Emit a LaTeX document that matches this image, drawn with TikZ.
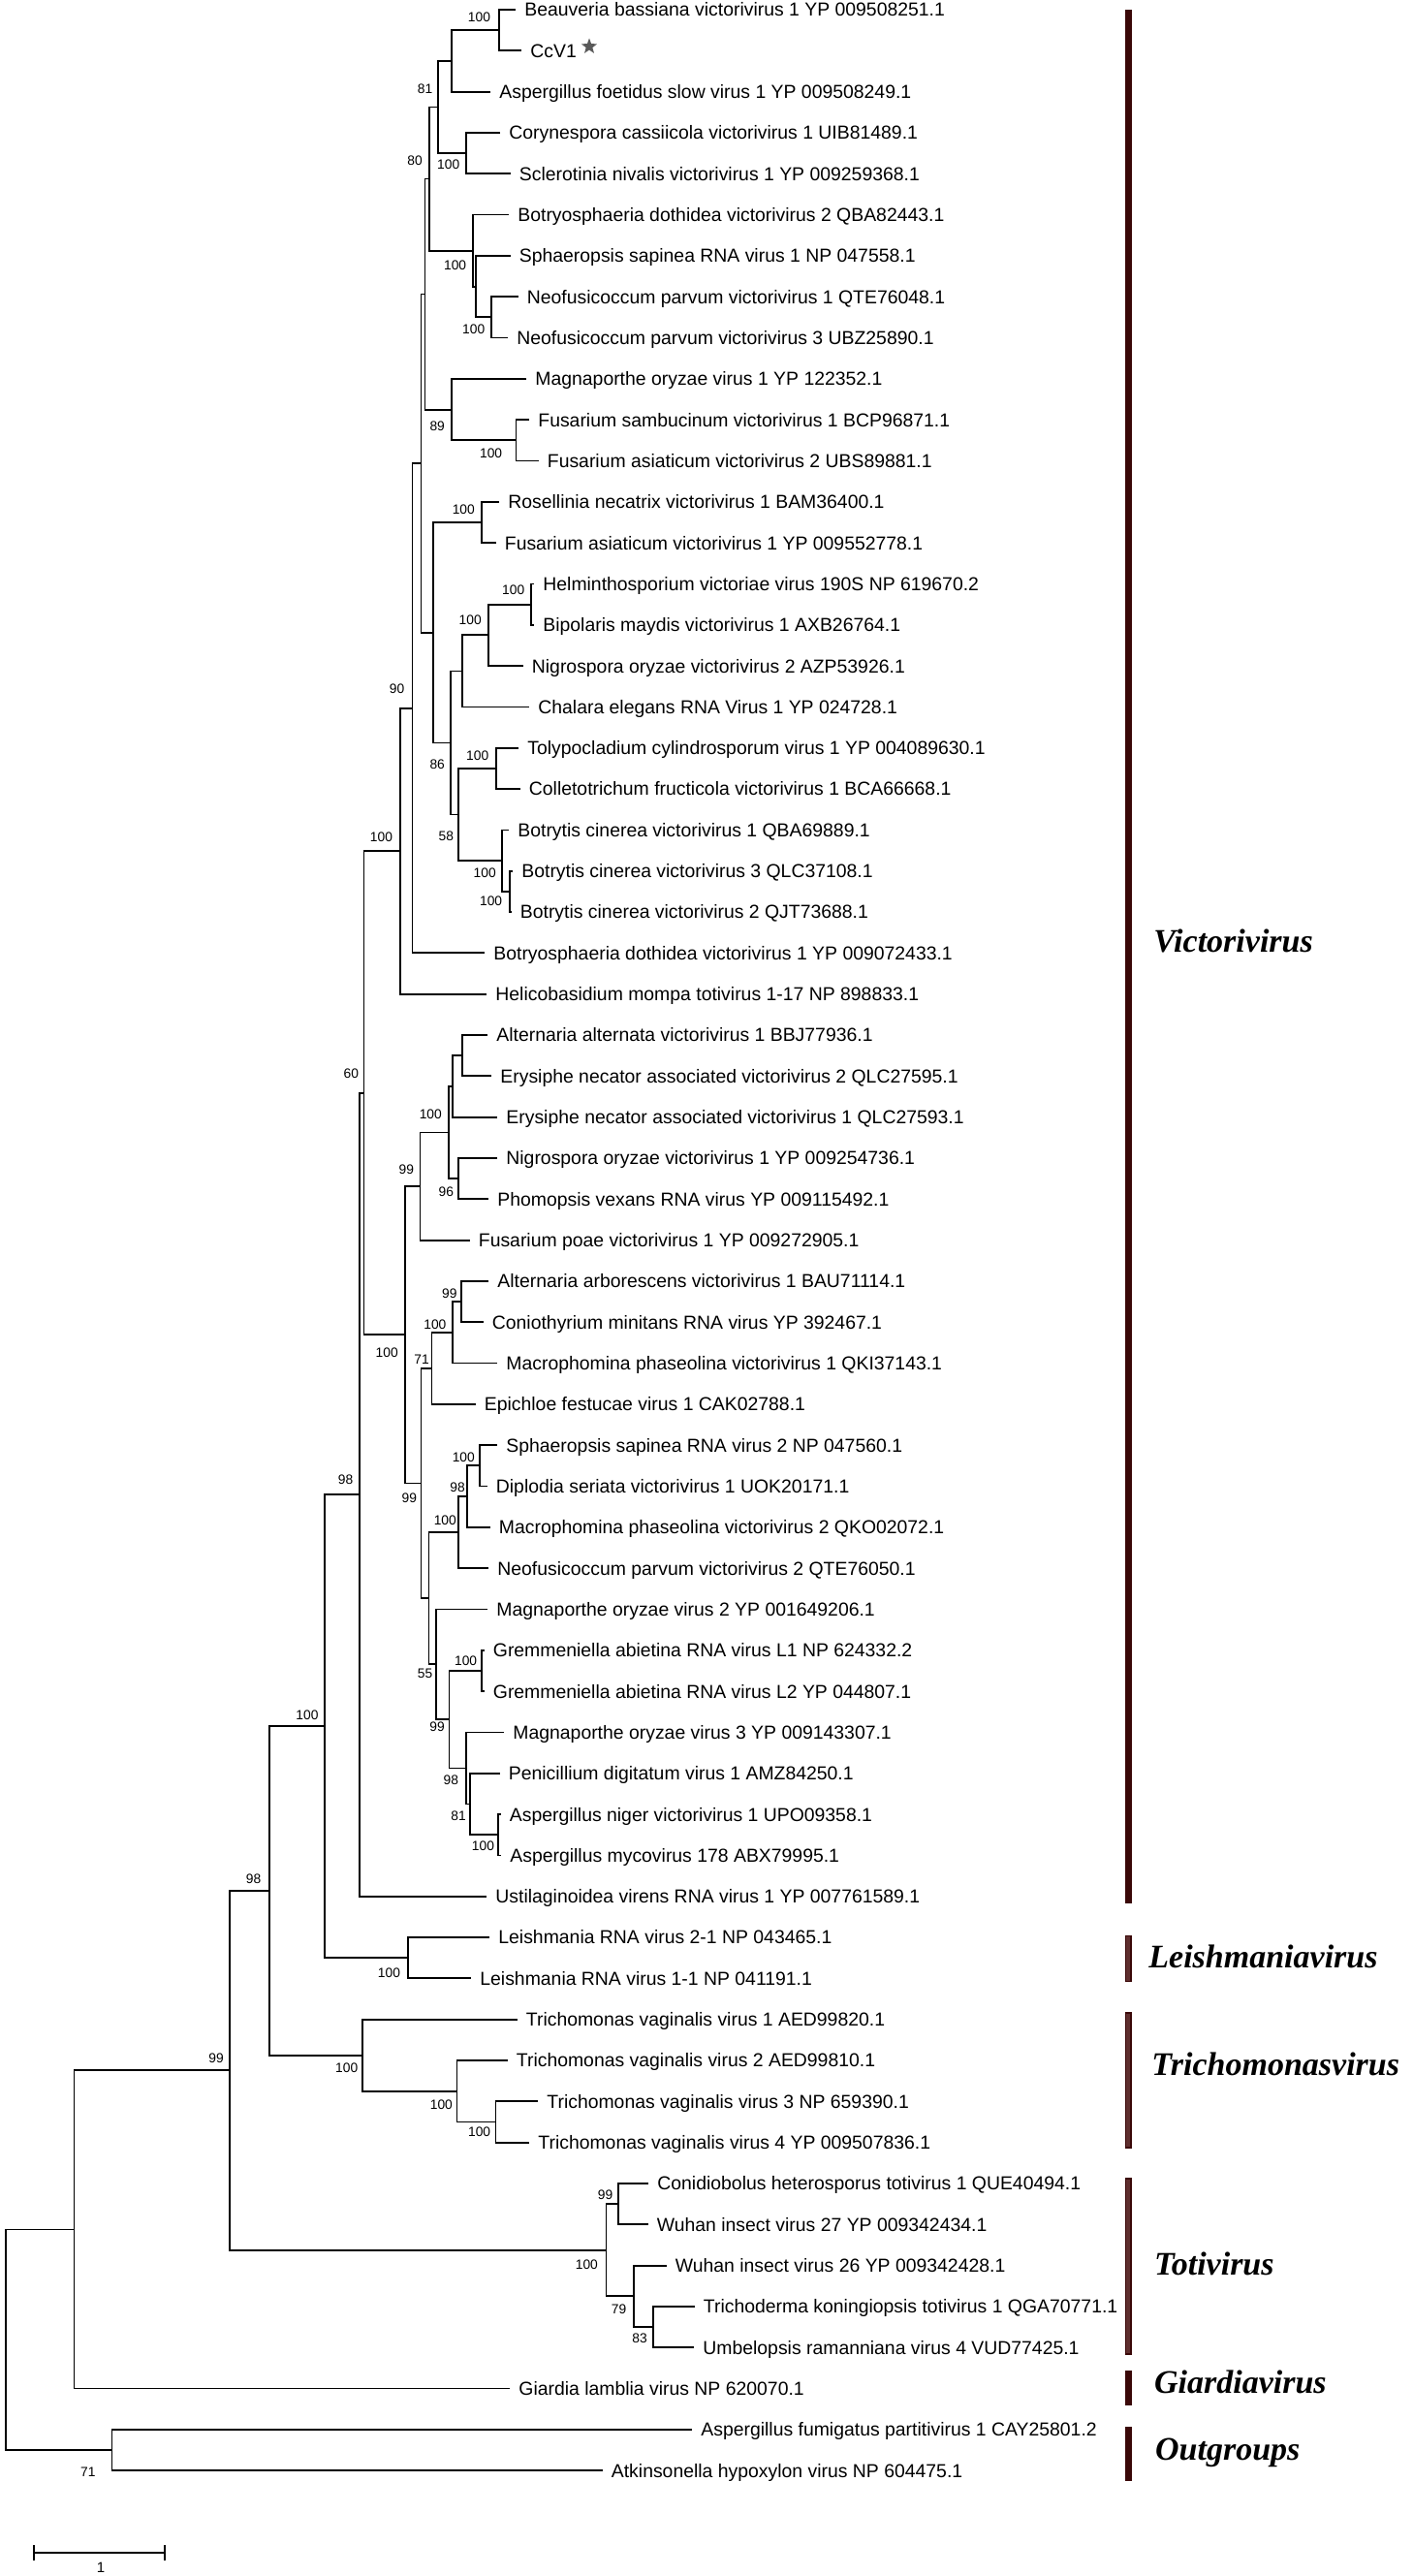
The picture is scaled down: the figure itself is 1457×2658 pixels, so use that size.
\documentclass[tikz,border=0pt]{standalone}
\usepackage{fontspec}
\setmainfont{Liberation Sans}
\newfontfamily\grpfont{Liberation Serif}
\usetikzlibrary{calc,shapes.geometric}
\definecolor{bardark}{HTML}{3A0808}
\definecolor{barlight}{HTML}{5E2E2E}
\definecolor{stargray}{HTML}{5A5A5A}
\newcommand{\leaf}[4]{%
  \coordinate (#1) at (#2,{10+(#3-1)*42.32});
  \node[lbl] (#1t) at (#1) {#4};}
\newcommand{\clade}[4]{%
  \path let \p1=($(#3)!0.5!(#4)$) in coordinate (#1) at (#2*0.5pt,\y1);
  \draw[br] (#3) -- (#1 |- #3) -- (#1 |- #4) -- (#4);}
\newcommand{\gbar}[5]{%
  \filldraw[fill=#4,draw=#5,line width=0.7pt] (1161.5,#2) rectangle (1166.8,#3);}
\begin{document}
\begin{tikzpicture}[x=0.5pt,y=-0.5pt,
  br/.style={line width=0.9pt,line join=miter,black},
  lbl/.style={anchor=west,inner xsep=4.5pt,inner ysep=0pt,text height=6.9pt,text depth=0pt,font=\fontsize{9.7}{11}\selectfont},
  bs/.style={inner sep=0pt,text height=4.9pt,text depth=0pt,font=\fontsize{6.9}{8}\selectfont},
  grp/.style={anchor=west,inner sep=0pt,text height=11.2pt,text depth=0pt,font=\grpfont\fontsize{17}{20}\selectfont\bfseries\itshape}]
\fill[white] (0,0) rectangle (1457,2658);
\useasboundingbox (0,0) rectangle (1457,2658);
% leaves
\leaf{l1}{532}{1}{Beauveria bassiana victorivirus 1 YP 009508251.1}
\leaf{l2}{538}{2}{CcV1}
\leaf{l3}{506}{3}{Aspergillus foetidus slow virus 1 YP 009508249.1}
\leaf{l4}{516}{4}{Corynespora cassiicola victorivirus 1 UIB81489.1}
\leaf{l5}{526.5}{5}{Sclerotinia nivalis victorivirus 1 YP 009259368.1}
\leaf{l6}{525}{6}{Botryosphaeria dothidea victorivirus 2 QBA82443.1}
\leaf{l7}{526.5}{7}{Sphaeropsis sapinea RNA virus 1 NP 047558.1}
\leaf{l8}{534.5}{8}{Neofusicoccum parvum victorivirus 1 QTE76048.1}
\leaf{l9}{524}{9}{Neofusicoccum parvum victorivirus 3 UBZ25890.1}
\leaf{l10}{543}{10}{Magnaporthe oryzae virus 1 YP 122352.1}
\leaf{l11}{546}{11}{Fusarium sambucinum victorivirus 1 BCP96871.1}
\leaf{l12}{555.5}{12}{Fusarium asiaticum victorivirus 2 UBS89881.1}
\leaf{l13}{515}{13}{Rosellinia necatrix victorivirus 1 BAM36400.1}
\leaf{l14}{511.5}{14}{Fusarium asiaticum victorivirus 1 YP 009552778.1}
\leaf{l15}{551}{15}{Helminthosporium victoriae virus 190S NP 619670.2}
\leaf{l16}{551}{16}{Bipolaris maydis victorivirus 1 AXB26764.1}
\leaf{l17}{539.5}{17}{Nigrospora oryzae victorivirus 2 AZP53926.1}
\leaf{l18}{546}{18}{Chalara elegans RNA Virus 1 YP 024728.1}
\leaf{l19}{535}{19}{Tolypocladium cylindrosporum virus 1 YP 004089630.1}
\leaf{l20}{536.5}{20}{Colletotrichum fructicola victorivirus 1 BCA66668.1}
\leaf{l21}{525}{21}{Botrytis cinerea victorivirus 1 QBA69889.1}
\leaf{l22}{529}{22}{Botrytis cinerea victorivirus 3 QLC37108.1}
\leaf{l23}{527.5}{23}{Botrytis cinerea victorivirus 2 QJT73688.1}
\leaf{l24}{500}{24}{Botryosphaeria dothidea victorivirus 1 YP 009072433.1}
\leaf{l25}{502}{25}{Helicobasidium mompa totivirus 1-17 NP 898833.1}
\leaf{l26}{503}{26}{Alternaria alternata victorivirus 1 BBJ77936.1}
\leaf{l27}{507}{27}{Erysiphe necator associated victorivirus 2 QLC27595.1}
\leaf{l28}{513}{28}{Erysiphe necator associated victorivirus 1 QLC27593.1}
\leaf{l29}{513}{29}{Nigrospora oryzae victorivirus 1 YP 009254736.1}
\leaf{l30}{504}{30}{Phomopsis vexans RNA virus YP 009115492.1}
\leaf{l31}{484.5}{31}{Fusarium poae victorivirus 1 YP 009272905.1}
\leaf{l32}{504}{32}{Alternaria arborescens victorivirus 1 BAU71114.1}
\leaf{l33}{498.5}{33}{Coniothyrium minitans RNA virus YP 392467.1}
\leaf{l34}{513}{34}{Macrophomina phaseolina victorivirus 1 QKI37143.1}
\leaf{l35}{490.5}{35}{Epichloe festucae virus 1 CAK02788.1}
\leaf{l36}{513}{36}{Sphaeropsis sapinea RNA virus 2 NP 047560.1}
\leaf{l37}{502.5}{37}{Diplodia seriata victorivirus 1 UOK20171.1}
\leaf{l38}{505.5}{38}{Macrophomina phaseolina victorivirus 2 QKO02072.1}
\leaf{l39}{504}{39}{Neofusicoccum parvum victorivirus 2 QTE76050.1}
\leaf{l40}{503}{40}{Magnaporthe oryzae virus 2 YP 001649206.1}
\leaf{l41}{499.5}{41}{Gremmeniella abietina RNA virus L1 NP 624332.2}
\leaf{l42}{499.5}{42}{Gremmeniella abietina RNA virus L2 YP 044807.1}
\leaf{l43}{520}{43}{Magnaporthe oryzae virus 3 YP 009143307.1}
\leaf{l44}{515.5}{44}{Penicillium digitatum virus 1 AMZ84250.1}
\leaf{l45}{516.5}{45}{Aspergillus niger victorivirus 1 UPO09358.1}
\leaf{l46}{517}{46}{Aspergillus mycovirus 178 ABX79995.1}
\leaf{l47}{502}{47}{Ustilaginoidea virens RNA virus 1 YP 007761589.1}
\leaf{l48}{505}{48}{Leishmania RNA virus 2-1 NP 043465.1}
\leaf{l49}{486}{49}{Leishmania RNA virus 1-1 NP 041191.1}
\leaf{l50}{533.5}{50}{Trichomonas vaginalis virus 1 AED99820.1}
\leaf{l51}{523.5}{51}{Trichomonas vaginalis virus 2 AED99810.1}
\leaf{l52}{555}{52}{Trichomonas vaginalis virus 3 NP 659390.1}
\leaf{l53}{546}{53}{Trichomonas vaginalis virus 4 YP 009507836.1}
\leaf{l54}{669}{54}{Conidiobolus heterosporus totivirus 1 QUE40494.1}
\leaf{l55}{668.5}{55}{Wuhan insect virus 27 YP 009342434.1}
\leaf{l56}{687.5}{56}{Wuhan insect virus 26 YP 009342428.1}
\leaf{l57}{716.5}{57}{Trichoderma koningiopsis totivirus 1 QGA70771.1}
\leaf{l58}{716}{58}{Umbelopsis ramanniana virus 4 VUD77425.1}
\leaf{l59}{526}{59}{Giardia lamblia virus NP 620070.1}
\leaf{l60}{714}{60}{Aspergillus fumigatus partitivirus 1 CAY25801.2}
\leaf{l61}{621.5}{61}{Atkinsonella hypoxylon virus NP 604475.1}
\node[star,star points=5,star point ratio=2.4,fill=stargray,minimum size=8.5pt,inner sep=0pt] (ccstar) at (608,48) {};
% clades
\clade{A}{514.6}{l1}{l2}
\clade{B}{465.6}{A}{l3}
\clade{C}{481}{l4}{l5}
\clade{D}{452.3}{B}{C}
\clade{G}{507}{l8}{l9}
\clade{F}{491}{l7}{G}
\clade{E}{488}{l6}{F}
\clade{H}{443}{D}{E}
\clade{J}{532.5}{l11}{l12}
\clade{I}{465.6}{l10}{J}
\clade{K}{438.5}{H}{I}
\clade{O}{496.7}{l13}{l14}
\clade{S}{548}{l15}{l16}
\clade{R}{503.7}{S}{l17}
\clade{Q}{477}{R}{l18}
\clade{T}{512}{l19}{l20}
\clade{W}{526}{l22}{l23}
\clade{V}{518}{l21}{W}
\clade{U}{473}{T}{V}
\clade{P}{465}{Q}{U}
\clade{N}{447}{O}{P}
\clade{M}{434.4}{K}{N}
\clade{X}{425.5}{M}{l24}
\clade{Y}{413}{X}{l25}
\clade{AE}{476.6}{l26}{l27}
\clade{AD}{467.3}{AE}{l28}
\clade{AF}{473}{l29}{l30}
\clade{AC}{462.7}{AD}{AF}
\clade{AB}{433.5}{AC}{l31}
\clade{AJ}{476}{l32}{l33}
\clade{AI}{467.3}{AJ}{l34}
\clade{AH}{445.4}{AI}{l35}
\clade{AO}{495}{l36}{l37}
\clade{AN}{482.3}{AO}{l38}
\clade{AL}{473}{AN}{l39}
\clade{AQ}{497.3}{l41}{l42}
\clade{AT}{513.8}{l45}{l46}
\clade{AS}{484.6}{l44}{AT}
\clade{AR}{480.8}{l43}{AS}
\clade{AP}{463.5}{AQ}{AR}
\clade{AM}{450}{l40}{AP}
\clade{AK}{442.5}{AL}{AM}
\clade{AG}{434.4}{AH}{AK}
\clade{AA}{418}{AB}{AG}
\clade{Z}{375.5}{Y}{AA}
\clade{BB}{371}{Z}{l47}
\clade{DD}{420.8}{l48}{l49}
\clade{CC}{334.8}{BB}{DD}
\clade{HH}{511.5}{l52}{l53}
\clade{GG}{471.5}{l51}{HH}
\clade{FF}{373.8}{l50}{GG}
\clade{EE}{277.8}{CC}{FF}
\clade{KK}{637.7}{l54}{l55}
\clade{MM}{673.8}{l57}{l58}
\clade{LL}{653.8}{l56}{MM}
\clade{JJ}{625.4}{KK}{LL}
\clade{II}{237}{EE}{JJ}
\clade{NN}{76.5}{II}{l59}
\clade{OO}{115.4}{l60}{l61}
\clade{root}{6.2}{NN}{OO}
% bootstrap values
\node[bs] (bA) at (494.5,17.3) {100};
\node[bs] (bD) at (438.5,91.7) {81};
\node[bs] (bC) at (462.7,170) {100};
\node[bs] (bH) at (428.1,165.7) {80};
\node[bs] (bE) at (469.6,273.3) {100};
\node[bs] (bG) at (488.7,340) {100};
\node[bs] (bI) at (451.2,439.3) {89};
\node[bs] (bJ) at (506.6,467.3) {100};
\node[bs] (bO) at (478.3,526) {100};
\node[bs] (bS) at (529.7,608.3) {100};
\node[bs] (bR) at (485.2,640) {100};
\node[bs] (bX) at (409.6,710.7) {90};
\node[bs] (bT) at (492.7,779.3) {100};
\node[bs] (bP) at (451.2,788.3) {86};
\node[bs] (bY) at (393.5,864) {100};
\node[bs] (bU) at (460.4,862.7) {58};
\node[bs] (bV) at (500.2,900.7) {100};
\node[bs] (bW) at (506.6,930) {100};
\node[bs] (bZ) at (362.3,1107.7) {60};
\node[bs] (bAC) at (444.3,1149.3) {100};
\node[bs] (bAB) at (419.4,1206.7) {99};
\node[bs] (bAF) at (460.4,1229.3) {96};
\node[bs] (bAJ) at (463.9,1334.5) {99};
\node[bs] (bAI) at (448.9,1366.7) {100};
\node[bs] (bAA) at (399.2,1396) {100};
\node[bs] (bAH) at (435,1402.7) {71};
\node[bs] (bAO) at (478.3,1503.3) {100};
\node[bs] (bBB) at (356.5,1526.7) {98};
\node[bs] (bAN) at (472,1535) {98};
\node[bs] (bAG) at (422.3,1546) {99};
\node[bs] (bAL) at (459.3,1568.3) {100};
\node[bs] (bAQ) at (480.6,1713.3) {100};
\node[bs] (bAM) at (438.5,1726.7) {55};
\node[bs] (bAP) at (451,1782) {99};
\node[bs] (bCC) at (317,1769.3) {100};
\node[bs] (bAR) at (465.4,1836.7) {98};
\node[bs] (bAS) at (473,1873.3) {81};
\node[bs] (bAT) at (498.5,1904.3) {100};
\node[bs] (bEE) at (261.5,1939) {98};
\node[bs] (bDD) at (401.5,2036) {100};
\node[bs] (bII) at (223,2123.3) {99};
\node[bs] (bFF) at (357.7,2134) {100};
\node[bs] (bGG) at (455.4,2171.7) {100};
\node[bs] (bHH) at (494.6,2200) {100};
\node[bs] (bKK) at (624.6,2264.3) {99};
\node[bs] (bJJ) at (605.4,2336.7) {100};
\node[bs] (bLL) at (638.5,2382.7) {79};
\node[bs] (bMM) at (660,2412.7) {83};
\node[bs] (bOO) at (90.8,2550.7) {71};
% group bars
\gbar{vic}{10.5}{1962.8}{bardark}{bardark}
\gbar{lei}{1997.6}{2044.3}{barlight}{bardark}
\gbar{tri}{2077}{2216}{barlight}{bardark}
\gbar{tot}{2248}{2429}{barlight}{bardark}
\gbar{gia}{2447}{2481.7}{bardark}{bardark}
\gbar{out}{2504.6}{2559}{bardark}{bardark}
\node[grp] (gvic) at (1190,971) {Victorivirus};
\node[grp] (glei) at (1185,2019) {Leishmaniavirus};
\node[grp] (gtri) at (1188,2130) {Trichomonasvirus};
\node[grp] (gtot) at (1190.7,2336) {Totivirus};
\node[grp] (ggia) at (1190.7,2458) {Giardiavirus};
\node[grp] (gout) at (1191.7,2527) {Outgroups};
% scale bar
\coordinate (sb1) at (34.6,2634);
\coordinate (sb2) at (170,2634);
\draw[br] (sb1) -- (sb2);
\draw[br] ([yshift=-4pt]sb1) -- ([yshift=4pt]sb1);
\draw[br] ([yshift=-4pt]sb2) -- ([yshift=4pt]sb2);
\node[bs,font=\fontsize{7.5}{9}\selectfont,text height=5.4pt] (sblabel) at (104,2649) {1};
\end{tikzpicture}
\end{document}
